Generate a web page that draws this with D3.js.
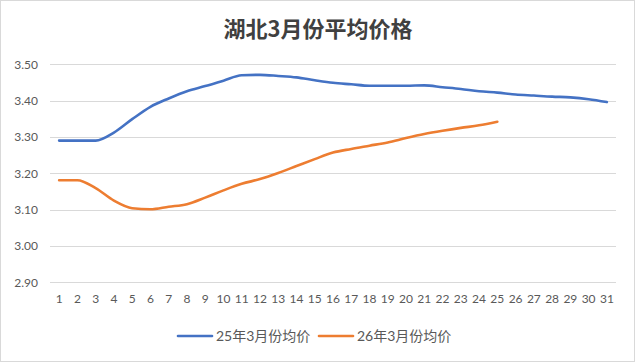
<!DOCTYPE html>
<html><head><meta charset="utf-8">
<script src="https://cdn.jsdelivr.net/npm/d3@7"></script>
<style>html,body{margin:0;padding:0;background:#fff;}svg{display:block;}</style>
</head><body>
<svg id="c" width="635" height="362"></svg>
<script>
const title = "湖北3月份平均价格";
const days = d3.range(1, 32).map(String);
const seriesNames = ["25年3月份均价", "26年3月份均价"];
const series25 = [3.290,3.290,3.290,3.312,3.349,3.383,3.406,3.426,3.440,3.455,3.470,3.471,3.468,3.464,3.456,3.449,3.445,3.441,3.441,3.441,3.442,3.437,3.432,3.426,3.422,3.417,3.414,3.411,3.409,3.404,3.396];
const series26 = [3.181,3.181,3.159,3.125,3.104,3.101,3.108,3.115,3.133,3.153,3.171,3.184,3.201,3.220,3.239,3.257,3.267,3.276,3.285,3.297,3.308,3.317,3.325,3.332,3.342];
const yTicks = [2.90,3.00,3.10,3.20,3.30,3.40,3.50];
const colors = ["#4472C4", "#ED7D31"];

const svg = d3.select("#c");
const W = 635, H = 362;
const font = "Lato, 'Noto Sans CJK SC', sans-serif";

svg.append("rect").attr("x",0.5).attr("y",0.5).attr("width",W-1).attr("height",H-1)
  .attr("fill","#fff").attr("stroke","#d9d9d9");

svg.append("text").attr("x",318).attr("y",37).attr("text-anchor","middle")
  .attr("font-family","'Noto Sans CJK SC', sans-serif").attr("font-weight","bold")
  .attr("font-size",22).attr("fill","#404040").text(title);

const x = d3.scaleBand().domain(days).range([50, 616]);
const y = d3.scaleLinear().domain([2.9, 3.5]).range([282.3, 64.3]);

svg.append("g").selectAll("line").data(yTicks).join("line")
  .attr("x1",50).attr("x2",616)
  .attr("y1",d=>Math.round(y(d))+0.5).attr("y2",d=>Math.round(y(d))+0.5)
  .attr("stroke","#d9d9d9").attr("stroke-width",1);

const yAxis = d3.axisLeft(y).tickValues(yTicks).tickFormat(d3.format(".2f")).tickSize(0).tickPadding(12);
const gy = svg.append("g").attr("transform","translate(50,0)").call(yAxis);
gy.select(".domain").remove();
gy.selectAll("text").attr("font-family",font).attr("font-size",12).attr("fill","#595959");

const xAxis = d3.axisBottom(x).tickSize(0).tickPadding(12);
const gx = svg.append("g").attr("transform","translate(0,282.3)").call(xAxis);
gx.select(".domain").remove();
gx.selectAll("text").attr("font-family",font).attr("font-size",12).attr("fill","#595959");

const line = d3.line()
  .x((d,i)=>x(days[i]) + x.bandwidth()/2)
  .y(d=>y(d))
  .curve(d3.curveMonotoneX);

[series25, series26].forEach((s,k)=>{
  svg.append("path").datum(s).attr("d",line).attr("fill","none")
    .attr("stroke",colors[k]).attr("stroke-width",2.6).attr("stroke-linecap","round");
});

const leg = [{x1:178,x2:212,tx:216},{x1:319,x2:353,tx:357}];
leg.forEach((l,k)=>{
  svg.append("line").attr("x1",l.x1).attr("x2",l.x2).attr("y1",336).attr("y2",336)
    .attr("stroke",colors[k]).attr("stroke-width",2.6).attr("stroke-linecap","round");
  svg.append("text").attr("x",l.tx).attr("y",341).attr("font-family",font)
    .attr("font-size",14).attr("fill","#595959").text(seriesNames[k]);
});
</script>
</body></html>
